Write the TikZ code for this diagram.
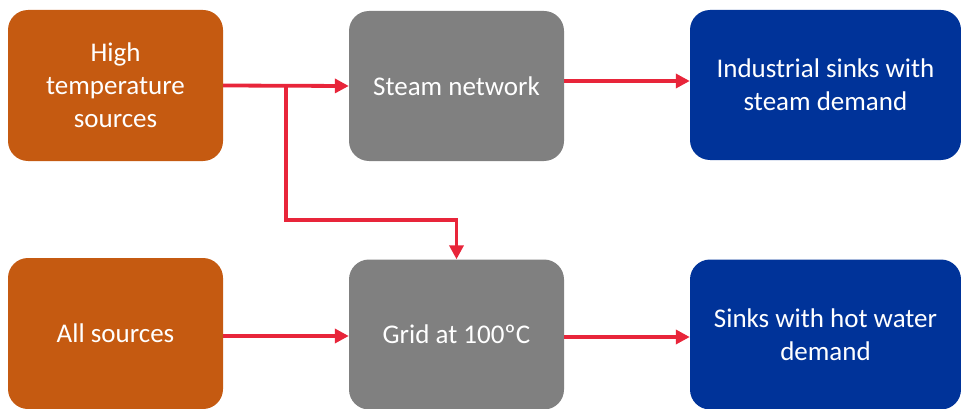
\documentclass[tikz,border=0pt]{standalone}
\usepackage{fontspec}
\setmainfont{Carlito}
\usetikzlibrary{arrows.meta}
\definecolor{srcorange}{HTML}{C55A11}
\definecolor{netgray}{HTML}{808080}
\definecolor{sinkblue}{HTML}{003399}
\definecolor{flowred}{HTML}{E8253A}
\tikzset{
  box/.style={rectangle, rounded corners=20pt, draw=none, text=white,
    align=center, font=\fontsize{27pt}{33pt}\selectfont, inner sep=0pt},
  srcbox/.style={box, fill=srcorange, minimum width=215pt, minimum height=151pt},
  netbox/.style={box, fill=netgray, minimum width=215pt, minimum height=150pt},
  sinkbox/.style={box, fill=sinkblue, minimum width=271pt, minimum height=150pt},
  flow/.style={draw=flowred, line width=3.8pt, -{Triangle[length=14pt,width=14pt]}}
}
\begin{document}
\begin{tikzpicture}[x=1pt,y=-1pt]
\useasboundingbox (0,0) rectangle (961,409);
\node[srcbox] (ht) at (115.5,85.5) {High\\temperature\\sources};
\node[netbox] (sn) at (456.5,86) {Steam network};
\node[sinkbox] (ind) at (825.5,85) {Industrial sinks with\\steam demand};
\node[srcbox] (all) at (115.5,333.5) {All sources};
\node[netbox] (grid) at (456.5,334.5) {Grid at 100ºC};
\node[sinkbox] (hw) at (825.5,334.5) {Sinks with hot water\\demand};
\coordinate (b1) at (286,220);
\draw[flow] (ht.east) -- (sn.west);
\draw[flow] (ht.east) -| (b1) -| (grid.north);
\draw[flow] (sn.east |- 0,81) -- (ind.west |- 0,81);
\draw[flow] (all.east |- 0,336) -- (grid.west |- 0,336);
\draw[flow] (grid.east |- 0,337) -- (hw.west |- 0,337);
\end{tikzpicture}
\end{document}
